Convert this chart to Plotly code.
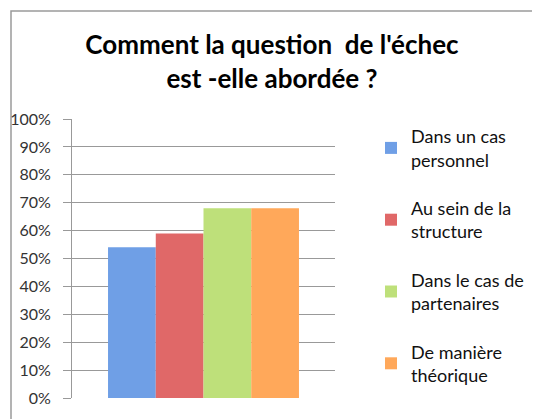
import plotly.graph_objects as go

title_text = "Comment la question  de l'échec<br>est -elle abordée ?"
series_names = ["Dans un cas<br>personnel", "Au sein de la<br>structure",
                "Dans le cas de<br>partenaires", "De manière<br>théorique"]
series_values = [54, 59, 68, 68]
series_colors = ["#6F9FE6", "#E06868", "#BEE07A", "#FFA85A"]
category = [""]
tick_vals = [0, 10, 20, 30, 40, 50, 60, 70, 80, 90, 100]
tick_text = [f"{v}%" for v in tick_vals]

fig = go.Figure()
for i, (name, val, col) in enumerate(zip(series_names, series_values, series_colors)):
    fig.add_trace(go.Bar(
        x=category, y=[val], name=name, marker=dict(color=col, line=dict(width=0)),
        legendgroup=f"g{i}", hoverinfo="skip"))

W, H = 532, 411
L, T, PW, PH = 64, 111, 263, 279
font_family = "Lato, 'Open Sans', sans-serif"
fig.update_layout(
    width=W, height=H,
    margin=dict(l=L, r=W - L - PW, t=T, b=H - T - PH),
    paper_bgcolor="white", plot_bgcolor="white",
    barmode="group", bargap=0.274, bargroupgap=0,
    title=dict(text=title_text, x=(264 - L) / PW, xanchor="center", xref="paper",
               y=1 - 46 / H, yanchor="middle",
               font=dict(family=font_family, size=26, color="black", weight="bold")),
    font=dict(family=font_family, color="#222"),
    showlegend=True,
    legend=dict(xref="container", yref="container", x=363 / W, xanchor="left",
                y=1 - 110 / H, yanchor="top", maxheight=390,
                tracegroupgap=22, font=dict(size=18, color="#111"), itemwidth=30,
                bgcolor="rgba(0,0,0,0)"),
    xaxis=dict(showticklabels=False, showline=False, showgrid=False, zeroline=False),
    yaxis=dict(range=[0, 100], tickvals=tick_vals, ticktext=tick_text, showgrid=True,
               gridcolor="#999999", gridwidth=1, showline=True, linecolor="#999999",
               ticks="outside", ticklen=8, tickcolor="#999999", ticklabelstandoff=9,
               zeroline=False, tickfont=dict(size=16, color="#333"), automargin=False),
    shapes=[dict(type="rect", xref="paper", yref="paper",
                 x0=(3 - L) / PW, x1=3, y0=-1, y1=(T + PH - 3) / PH,
                 line=dict(color="#9a9a9a", width=1.5), fillcolor="rgba(0,0,0,0)", layer="below")],
)
fig.write_html("out.html")
